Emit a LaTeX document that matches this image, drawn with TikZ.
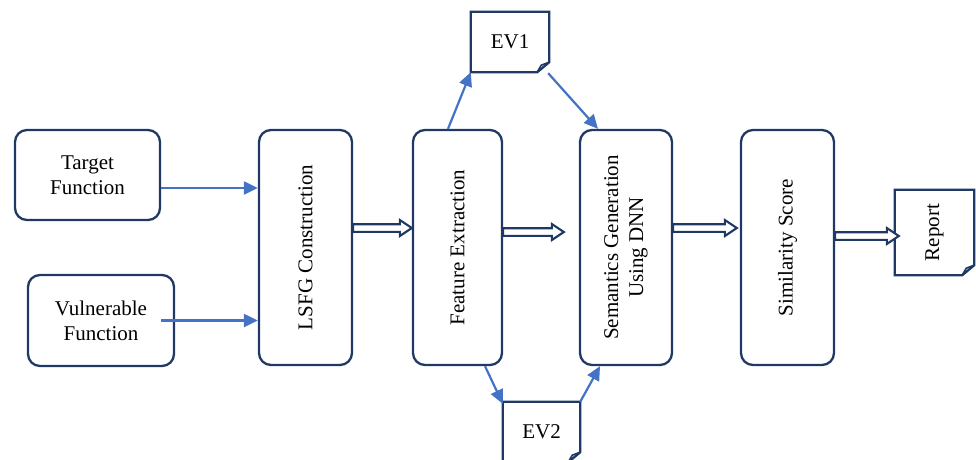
\documentclass[tikz,border=0pt]{standalone}
\usepackage{fontspec}
\setmainfont{Liberation Serif}
\usetikzlibrary{arrows.meta,calc}

\definecolor{navy}{HTML}{1F3864}
\definecolor{flowblue}{HTML}{4472C4}

\tikzset{
  labelfont/.style={font=\fontsize{21}{25}\selectfont},
  procbox/.style={draw=navy, line width=2.3pt, rounded corners=12pt, align=center,
    inner sep=0pt, labelfont},
  tallbox/.style={procbox, minimum height=235pt},
  vtext/.style={rotate=90, align=center, labelfont},
  docnode/.style={inner sep=0pt, align=center, labelfont},
  docline/.style={draw=navy, line width=2.3pt, line join=miter},
  thinflow/.style={flowblue, line width=2.2pt, -{Triangle[length=14pt,width=13pt]}},
  blockflow/.style={draw=navy, fill=white, line width=2.1pt, line join=miter},
}

% outline of a sheet with a turned-up bottom-right corner
\newcommand\sheetoutline[1]{%
  \draw[docline] (#1.north west) -- (#1.north east) -- ($(#1.south east)+(0,-10)$)
    -- ($(#1.south east)+(-12,0)$) -- (#1.south west) -- cycle;
  \draw[docline, line width=1.6pt] ($(#1.south east)+(-12,0)$) -- ($(#1.south east)+(-8,-7)$)
    -- ($(#1.south east)+(0,-10)$);
}

% hollow block arrow between two points on the same level
\newcommand\blockarrow[2]{%
  \draw[blockflow] ($(#1)+(0,-3.8)$) -- ($(#2)+(-12,-3.8)$) -- ($(#2)+(-12,-8)$)
    -- (#2) -- ($(#2)+(-12,8)$) -- ($(#2)+(-12,3.8)$) -- ($(#1)+(0,3.8)$) -- cycle;
}

\begin{document}
\begin{tikzpicture}[x=1pt,y=-1pt]
  \useasboundingbox (0,0) rectangle (976,459);

  % inputs
  \node[procbox, minimum width=145pt, minimum height=90pt] (tgt) at (87.5,175) {Target\\Function};
  \node[procbox, minimum width=146pt, minimum height=91pt] (vul) at (101,320.5) {Vulnerable\\Function};

  % processing stages
  \node[tallbox, minimum width=93pt] (lsfg) at (305.5,247.5) {};
  \node[vtext] at (lsfg) {LSFG Construction};
  \node[tallbox, minimum width=89pt] (fe) at (457.5,247.5) {};
  \node[vtext] at (fe) {Feature Extraction};
  \node[tallbox, minimum width=92pt] (sem) at (626,247.5) {};
  \node[vtext] at (sem) {Semantics Generation\\Using DNN};
  \node[tallbox, minimum width=93pt] (sim) at (787.5,247.5) {};
  \node[vtext] at (sim) {Similarity Score};

  % sheets
  \node[docnode, minimum width=78pt, minimum height=60pt] (ev1) at (510,42) {EV1};
  \sheetoutline{ev1}
  \node[docnode, minimum width=77pt, minimum height=60pt] (ev2) at (541.5,432) {EV2};
  \sheetoutline{ev2}
  \node[docnode, minimum width=79pt, minimum height=85pt] (rep) at (934.5,232.5) {};
  \node[vtext] at (rep) {Report};
  \sheetoutline{rep}

  % helper points for the connectors
  \coordinate (tgtout) at ($(tgt.east)+(0,13)$);
  \coordinate (vulout) at ($(vul.east)+(-14,0)$);
  \coordinate (lsfgout) at ($(lsfg.east)+(0,-19.5)$);
  \coordinate (feout) at ($(fe.east)+(0,-15.5)$);
  \coordinate (semin) at ($(sem.west)+(-15,0)$);
  \coordinate (semout) at ($(sem.east)+(0,-19.5)$);
  \coordinate (simin) at ($(sim.west)+(-3,0)$);
  \coordinate (simout) at ($(sim.east)+(0,-11.5)$);
  \coordinate (repin) at ($(rep.west)+(4,0)$);
  \coordinate (fein) at (lsfgout -| fe.west);
  \coordinate (semend) at (feout -| semin);
  \coordinate (simend) at (semout -| simin);
  \coordinate (repend) at (simout -| repin);

  % input arrows
  \draw[thinflow] (tgtout) -- (tgtout -| lsfg.west);
  \draw[thinflow] (vulout) -- (vulout -| lsfg.west);

  % main pipeline
  \blockarrow{lsfgout}{fein}
  \blockarrow{feout}{semend}
  \blockarrow{semout}{simend}
  \blockarrow{simout}{repend}

  % feature vector branches
  \draw[thinflow] ($(fe.north)+(-9.5,0)$) -- (ev1.south west);
  \draw[thinflow] ($(ev1.south east)+(-1,1)$) -- ($(sem.north)+(-28,0)$);
  \draw[thinflow] ($(fe.south)+(27.5,0)$) -- ($(ev2.north west)+(0,2)$);
  \draw[thinflow] (ev2.north east) -- ($(sem.south)+(-26,0)$);
\end{tikzpicture}
\end{document}
